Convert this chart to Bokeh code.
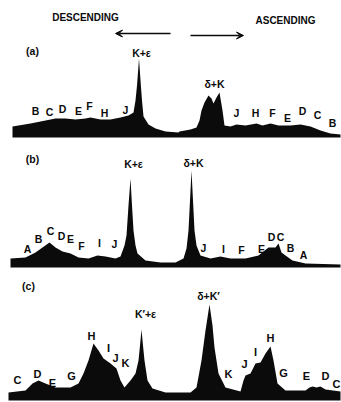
from bokeh.plotting import figure
from bokeh.models import Range1d, Arrow, VeeHead
from bokeh.core.properties import value
from bokeh.embed import file_html
from bokeh.resources import INLINE
import numpy as np

# ---- densitometer traces (migration position, trace top) ----
# (a)
a_pos = [12, 30, 45, 55, 65, 75, 85, 90, 100, 110, 120, 128, 133, 135, 136.5, 138.5,
         140, 141.5, 143, 148, 155, 165, 178,
         179, 190, 196, 199, 201, 204, 208, 211, 213, 216, 219, 222, 224, 230, 236,
         245, 256, 262, 270, 278, 290, 300, 310, 320, 330, 340]
a_top = [126, 123, 120, 118, 118, 119, 118, 117, 119, 119, 117, 115, 112, 100, 85, 58,
         80, 100, 116, 124, 128, 131, 132,
         131, 129, 127, 120, 110, 102, 95, 98, 103, 97, 92, 110, 125, 126, 124,
         125, 123, 125, 123, 125, 125, 124, 126, 130, 133, 134]
a_base = 137

# (b)
b_pos = [10, 25, 35, 42, 49, 55, 62, 70, 78, 88, 97, 105, 115, 120, 124, 126, 128, 130,
         131.5, 133, 135, 137, 145, 160, 175, 183, 186, 188, 189.5, 191, 192.5, 194, 196,
         200, 210, 220, 230, 245, 258, 268, 275, 278, 281, 285, 292, 305, 340]
b_top = [258, 257, 252, 247, 242, 247, 251, 253, 257, 258, 255, 256, 258, 256, 245, 235, 205, 178,
         205, 230, 245, 253, 260, 262, 262, 258, 248, 230, 200, 170, 200, 230, 245,
         255, 258, 256, 258, 258, 255, 247, 247, 243, 252, 255, 260, 263, 264]
b_base = 267

# (c)
c_pos = [8, 25, 32, 38, 45, 55, 70, 78, 83, 88, 93, 98, 103, 110, 116, 120, 124, 130, 135,
         138, 139.5, 141, 142.5, 144, 147, 152, 165, 190, 196, 201, 205, 209, 212, 214, 218,
         225, 240, 243, 245, 250, 255, 260, 265, 270, 273, 277, 285, 305, 309, 312, 316, 320,
         325, 340]
c_top = [392, 390, 383, 380, 383, 387, 387, 383, 373, 360, 343, 350, 358, 363, 368, 380, 387, 380, 373,
         360, 345, 329, 345, 360, 380, 388, 392, 392, 387, 360, 330, 304, 325, 347, 373,
         387, 391, 380, 375, 373, 363, 362, 353, 346, 360, 383, 390, 390, 387, 386, 387, 386,
         389, 391]
c_base = 400

# ---- band labels ----
a_lab = ["B", "C", "D", "E", "F", "H", "J", "J", "H", "F", "E", "D", "C", "B"]
a_lab_x = [35, 49, 62, 78, 89, 104, 125, 236, 255, 272, 287, 302, 317, 332]
a_lab_y = [110, 111, 108, 110, 105, 112, 109, 112, 112, 112, 117, 110, 114, 122]

b_lab = ["A", "B", "C", "D", "E", "F", "I", "J", "J", "I", "F", "E", "D", "C", "B", "A"]
b_lab_x = [27, 38, 50, 61, 70, 81, 99, 114, 203, 223, 241, 261, 271, 280, 290, 303]
b_lab_y = [248, 238, 230, 235, 238, 245, 242, 243, 247, 248, 249, 248, 236, 236, 247, 254]

c_lab = ["C", "D", "E", "G", "H", "I", "J", "K", "K", "J", "I", "H", "G", "E", "D", "C"]
c_lab_x = [17, 37, 52, 71, 91, 108, 115, 125, 228, 244, 255, 270, 283, 306, 325, 336]
c_lab_y = [379, 373, 382, 375, 335, 347, 357, 362, 373, 363, 351, 337, 372, 375, 375, 383]

peak_lab = ["K+ε", "δ+K", "K+ε", "δ+K", "K′+ε", "δ+K′"]
peak_x = [141, 214, 133, 193, 145, 208]
peak_y = [52, 83, 163, 162, 313, 295]

tag_lab = ["(a)", "(b)", "(c)"]
tag_x = [32, 32, 28]
tag_y = [50, 158, 285]

head_lab = ["DESCENDING", "ASCENDING"]
head_x = [85, 285]
head_y = [17, 20]

# arrows: start and end positions
arr_x0 = [170, 190]
arr_x1 = [115, 243]
arr_y = [33, 35]

p = figure(width=341, height=402, output_backend="svg", toolbar_location=None,
           x_range=Range1d(0, 341), y_range=Range1d(402, 0), min_border=0)
p.axis.visible = False
p.grid.visible = False
p.outline_line_color = None
p.background_fill_color = "white"

ink = "#0b0b0b"
for pos, top, base in [(a_pos, a_top, a_base), (b_pos, b_top, b_base), (c_pos, c_top, c_base)]:
    pos = np.asarray(pos, float)
    p.varea(x=pos, y1=np.full(len(pos), base), y2=np.asarray(top, float),
            fill_color=ink)

font = value("Liberation Sans")


def labels(txt, xs, ys, size):
    p.text(x=xs, y=ys, text=txt, text_font=font, text_font_style="bold",
           text_font_size=size, text_align="center", text_baseline="middle",
           text_color=ink)


labels(a_lab, a_lab_x, a_lab_y, "10.5px")
labels(b_lab, b_lab_x, b_lab_y, "10.5px")
labels(c_lab, c_lab_x, c_lab_y, "11px")
labels(peak_lab, peak_x, peak_y, "10.5px")
labels(tag_lab, tag_x, tag_y, "10.5px")
labels(head_lab, head_x, head_y, "10px")

for x0, x1, y in zip(arr_x0, arr_x1, arr_y):
    p.add_layout(Arrow(end=VeeHead(size=7, fill_color=ink, line_color=ink, line_width=1),
                       x_start=x0, y_start=y, x_end=x1, y_end=y,
                       line_color=ink, line_width=1.5))

open("out.html", "w").write(file_html(p, INLINE))
